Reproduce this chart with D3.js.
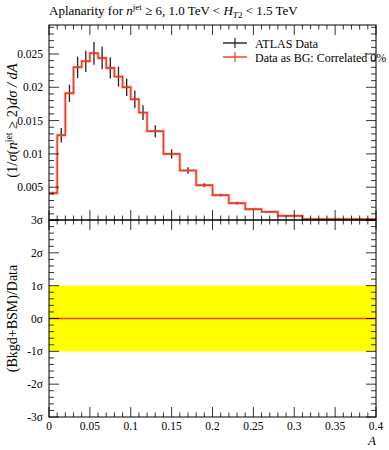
<!DOCTYPE html>
<html lang="en">
<head>
    <meta charset="UTF-8">
    <title>Aplanarity</title>
    <script src="https://d3js.org/d3.v7.min.js"></script>
    <style>
        body { margin: 0; background: #fff; }
        text { font-family: "Liberation Serif", "DejaVu Serif", serif; fill: #000; }
    </style>
</head>
<body>
<svg id="plot" width="389" height="450"></svg>

<script>
    // bin edges and values
    const binEdges = [0, 0.01, 0.02, 0.03, 0.04, 0.05, 0.06, 0.07, 0.08, 0.09, 0.10, 0.11, 0.12,
        0.14, 0.16, 0.18, 0.20, 0.22, 0.24, 0.26, 0.28, 0.31, 0.40];
    const dataValues = [0.0041, 0.0128, 0.0191, 0.0230, 0.0239, 0.0251, 0.0244, 0.0229, 0.0216, 0.0200,
        0.0182, 0.0162, 0.0134, 0.0100, 0.0075, 0.0053, 0.0038, 0.0026, 0.0017, 0.0013, 0.0007, 0.0002];
    const dataErrors = [0.0002, 0.0011, 0.0013, 0.0016, 0.0016, 0.0017, 0.0017, 0.0016, 0.0015, 0.0013,
        0.0013, 0.0011, 0.0009, 0.0007, 0.0005, 0.0003, 0.0002, 0.0002, 0.0001, 0.0001, 0.0001, 0.0001];
    const yTickLabels = [0.005, 0.01, 0.015, 0.02, 0.025];
    const sigmaTicks = [-3, -2, -1, 0, 1, 2, 3];
    const xTickLabels = [0, 0.05, 0.1, 0.15, 0.2, 0.25, 0.3, 0.35, 0.4];

    const left = 49, right = 376;
    const topY = 25, midY = 220, botY = 417;

    const svg = d3.select("#plot");

    const x = d3.scaleLinear().domain([0, 0.4]).range([left, right]);
    const y = d3.scaleLinear().domain([0, 0.02935]).range([midY + 0.5, topY]);
    const ys = d3.scaleLinear().domain([-3, 3]).range([botY, midY]);

    const bins = dataValues.map(function (v, i) {
        return { x0: binEdges[i], x1: binEdges[i + 1], v: v, e: dataErrors[i] };
    });

    // ---- upper panel ----
    const up = svg.append("g");

    // data error bars (black)
    up.selectAll(".ebar").data(bins).enter().append("line")
        .attr("x1", function (d) { return x((d.x0 + d.x1) / 2); })
        .attr("x2", function (d) { return x((d.x0 + d.x1) / 2); })
        .attr("y1", function (d) { return y(d.v - d.e); })
        .attr("y2", function (d) { return y(d.v + d.e); })
        .attr("stroke", "#222").attr("stroke-width", 1.3);
    up.selectAll(".hbar").data(bins).enter().append("line")
        .attr("x1", function (d) { return x(d.x0); })
        .attr("x2", function (d) { return x(d.x1); })
        .attr("y1", function (d) { return y(d.v); })
        .attr("y2", function (d) { return y(d.v); })
        .attr("stroke", "#222").attr("stroke-width", 1);

    // red step histogram
    const steps = [];
    bins.forEach(function (d) { steps.push([d.x0, d.v]); steps.push([d.x1, d.v]); });
    const stepLine = d3.line().x(function (d) { return x(d[0]); }).y(function (d) { return y(d[1]); });
    up.append("path").datum(steps).attr("d", stepLine)
        .attr("fill", "none").attr("stroke", "rgba(240,60,30,0.35)").attr("stroke-width", 3);
    up.append("path").datum(steps).attr("d", stepLine)
        .attr("fill", "none").attr("stroke", "#f03c1e").attr("stroke-width", 1.4);

    // ---- lower panel ----
    const lo = svg.append("g");
    lo.append("rect")
        .attr("x", x(0)).attr("y", ys(1))
        .attr("width", x(0.4) - x(0)).attr("height", ys(-1) - ys(1))
        .attr("fill", "#ffff00");
    lo.append("line")
        .attr("x1", x(0)).attr("x2", x(0.4))
        .attr("y1", ys(0)).attr("y2", ys(0))
        .attr("stroke", "#f03c1e").attr("stroke-width", 1.4);

    // ---- frames and ticks ----
    function frame(y0, y1) {
        svg.append("rect").attr("x", left).attr("y", y0)
            .attr("width", right - left).attr("height", y1 - y0)
            .attr("fill", "none").attr("stroke", "#000").attr("stroke-width", 1);
    }
    frame(topY, midY);
    frame(midY, botY);

    const tickG = svg.append("g").attr("stroke", "#000").attr("stroke-width", 0.8);
    const xMinor = d3.range(0, 41).map(function (i) { return i / 100; });
    xMinor.forEach(function (v, i) {
        const len = (i % 5 === 0) ? 10 : 4.5;
        const px = x(v);
        [[topY, 1], [midY, -1], [midY, 1], [botY, -1]].forEach(function (p) {
            tickG.append("line").attr("x1", px).attr("x2", px)
                .attr("y1", p[0]).attr("y2", p[0] + p[1] * len);
        });
    });
    // upper y ticks
    d3.range(0, 30).forEach(function (i) {
        const v = i / 1000;
        if (y(v) < topY) return;
        const len = (i % 5 === 0) ? 10 : 5;
        [[left, 1], [right, -1]].forEach(function (p) {
            tickG.append("line").attr("x1", p[0]).attr("x2", p[0] + p[1] * len)
                .attr("y1", y(v)).attr("y2", y(v));
        });
    });
    // lower y ticks
    d3.range(-15, 16).forEach(function (i) {
        const v = i / 5;
        const len = (i % 5 === 0) ? 10 : 5;
        [[left, 1], [right, -1]].forEach(function (p) {
            tickG.append("line").attr("x1", p[0]).attr("x2", p[0] + p[1] * len)
                .attr("y1", ys(v)).attr("y2", ys(v));
        });
    });

    // ---- labels ----
    const fs = 11.5;
    svg.selectAll(".ylab").data(yTickLabels).enter().append("text")
        .attr("x", 43).attr("y", function (d) { return y(d) + 4; })
        .attr("text-anchor", "end").attr("font-size", fs)
        .text(function (d) { return d; });

    svg.selectAll(".slab").data(sigmaTicks).enter().append("text")
        .attr("x", 43).attr("y", function (d) { return ys(d) + 4; })
        .attr("text-anchor", "end").attr("font-size", fs)
        .text(function (d) { return d + "\u03C3"; });

    svg.selectAll(".xlab").data(xTickLabels).enter().append("text")
        .attr("x", function (d) { return x(d); }).attr("y", 430)
        .attr("text-anchor", "middle").attr("font-size", fs)
        .text(function (d) { return d; });

    svg.append("text").attr("x", 376).attr("y", 445)
        .attr("text-anchor", "end").attr("font-size", 13).attr("font-style", "italic").text("A");

    // title
    const title = svg.append("text").attr("x", left).attr("y", 15).attr("font-size", 13);
    title.append("tspan").text("Aplanarity for ");
    title.append("tspan").attr("font-style", "italic").text("n");
    title.append("tspan").attr("font-size", 9).attr("dy", -5).text("jet");
    title.append("tspan").attr("dy", 5).text(" \u2265 6, 1.0 TeV < ");
    title.append("tspan").attr("font-style", "italic").text("H");
    title.append("tspan").attr("font-size", 9).attr("dy", 3).attr("font-style", "italic").text("T");
    title.append("tspan").attr("font-size", 9).text("2");
    title.append("tspan").attr("dy", -3).text(" < 1.5 TeV");

    // upper y axis title
    const yt = svg.append("text")
        .attr("transform", "translate(17," + ((topY + midY) / 2 - 2) + ") rotate(-90)")
        .attr("text-anchor", "middle").attr("font-size", 14.5);
    yt.append("tspan").text("(1/");
    yt.append("tspan").attr("font-style", "italic").text("\u03C3");
    yt.append("tspan").text("(");
    yt.append("tspan").attr("font-style", "italic").text("n");
    yt.append("tspan").attr("font-size", 10).attr("dy", -5).text("jet");
    yt.append("tspan").attr("dy", 5).text(" \u2265 2)");
    yt.append("tspan").attr("font-style", "italic").text("d\u03C3 / dA");

    svg.append("text")
        .attr("transform", "translate(17," + ys(0) + ") rotate(-90)")
        .attr("text-anchor", "middle").attr("font-size", 14)
        .text("(Bkgd+BSM)/Data");

    // legend
    const legend = [
        { name: "ATLAS Data", color: "#222", y: 43 },
        { name: "Data as BG: Correlated 0%", color: "#f03c1e", y: 57 }
    ];
    const lg = svg.selectAll(".leg").data(legend).enter().append("g");
    lg.append("line").attr("x1", 223).attr("x2", 247)
        .attr("y1", function (d) { return d.y; }).attr("y2", function (d) { return d.y; })
        .attr("stroke", function (d) { return d.color; }).attr("stroke-width", 1.4);
    lg.append("line").attr("x1", 235).attr("x2", 235)
        .attr("y1", function (d) { return d.y - 5; }).attr("y2", function (d) { return d.y + 5; })
        .attr("stroke", function (d) { return d.color; }).attr("stroke-width", 1.2);
    lg.append("text").attr("x", 255).attr("y", function (d) { return d.y + 4.5; })
        .attr("font-size", 12).text(function (d) { return d.name; });
</script>
</body>
</html>
